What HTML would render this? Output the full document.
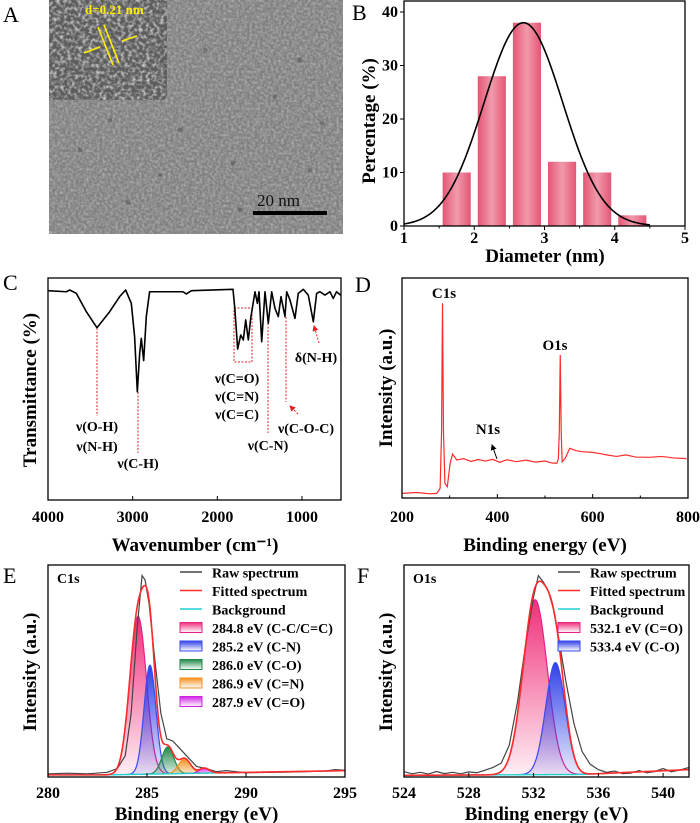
<!DOCTYPE html>
<html><head><meta charset="utf-8"><style>
html,body{margin:0;padding:0;background:#fff;}
svg{display:block;font-family:"Liberation Serif",serif;font-weight:bold;}
</style></head><body>
<svg id="fig" width="700" height="823" viewBox="0 0 700 823">
<defs>
<filter id="noise" x="0" y="0" width="100%" height="100%">
<feTurbulence type="fractalNoise" baseFrequency="0.38" numOctaves="2" seed="3"/>
<feColorMatrix type="matrix" values="0 0 0 0 0.45  0 0 0 0 0.45  0 0 0 0 0.45  1.8 0 0 0 -0.6"/>
</filter>
<filter id="noise2" x="0" y="0" width="100%" height="100%">
<feTurbulence type="fractalNoise" baseFrequency="0.28" numOctaves="2" seed="7"/>
<feColorMatrix type="matrix" values="0 0 0 0 1  0 0 0 0 1  0 0 0 0 1  2.2 0 0 0 -0.9"/>
</filter>
<linearGradient id="barG" x1="0" x2="1" y1="0" y2="0">
<stop offset="0" stop-color="#e45674"/><stop offset="0.5" stop-color="#f19aac"/><stop offset="1" stop-color="#e45674"/>
</linearGradient>
<linearGradient id="gPink" x1="0" x2="0" y1="0" y2="1"><stop offset="0" stop-color="#f0307a"/><stop offset="1" stop-color="#f0307a" stop-opacity="0.08"/></linearGradient>
<linearGradient id="gBlue" x1="0" x2="0" y1="0" y2="1"><stop offset="0" stop-color="#3040e8"/><stop offset="1" stop-color="#3040e8" stop-opacity="0.1"/></linearGradient>
<linearGradient id="gGreen" x1="0" x2="0" y1="0" y2="1"><stop offset="0" stop-color="#20884a"/><stop offset="1" stop-color="#20884a" stop-opacity="0.15"/></linearGradient>
<linearGradient id="gOrange" x1="0" x2="0" y1="0" y2="1"><stop offset="0" stop-color="#f7901e"/><stop offset="1" stop-color="#f7901e" stop-opacity="0.2"/></linearGradient>
<linearGradient id="gPurple" x1="0" x2="0" y1="0" y2="1"><stop offset="0" stop-color="#d020e8"/><stop offset="1" stop-color="#d020e8" stop-opacity="0.2"/></linearGradient>
<linearGradient id="lgPink" x1="0" x2="0" y1="0" y2="1"><stop offset="0" stop-color="#f0307a"/><stop offset="1" stop-color="#fff"/></linearGradient>
<linearGradient id="lgBlue" x1="0" x2="0" y1="0" y2="1"><stop offset="0" stop-color="#3040e8"/><stop offset="1" stop-color="#fff"/></linearGradient>
<linearGradient id="lgGreen" x1="0" x2="0" y1="0" y2="1"><stop offset="0" stop-color="#20884a"/><stop offset="1" stop-color="#fff"/></linearGradient>
<linearGradient id="lgOrange" x1="0" x2="0" y1="0" y2="1"><stop offset="0" stop-color="#f7901e"/><stop offset="1" stop-color="#fff"/></linearGradient>
<linearGradient id="lgPurple" x1="0" x2="0" y1="0" y2="1"><stop offset="0" stop-color="#d020e8"/><stop offset="1" stop-color="#fff"/></linearGradient>
<marker id="arrR" markerWidth="6" markerHeight="6" refX="5" refY="3" orient="auto"><path d="M0,0 L6,3 L0,6 z" fill="#e02020"/></marker>
<marker id="arrK" markerWidth="6" markerHeight="6" refX="5" refY="3" orient="auto"><path d="M0,0 L6,3 L0,6 z" fill="#000"/></marker>
</defs>

<!-- Panel A TEM -->
<g>
<text x="3" y="22" font-size="22" font-weight="normal">A</text>
<rect x="49" y="0" width="294" height="234" fill="#7f7f7f"/>
<rect x="49" y="0" width="294" height="234" filter="url(#noise)" opacity="0.95"/>
<g fill="#3a3a3a" opacity="0.35">
<circle cx="205" cy="50" r="2.5"/><circle cx="275" cy="97" r="2.5"/><circle cx="322" cy="123" r="2.5"/><circle cx="233" cy="163" r="2.5"/><circle cx="128" cy="202" r="2.5"/><circle cx="80" cy="150" r="2.5"/><circle cx="300" cy="60" r="2.5"/><circle cx="180" cy="130" r="2.5"/><circle cx="240" cy="210" r="2.5"/><circle cx="110" cy="120" r="2"/><circle cx="160" cy="175" r="2"/><circle cx="310" cy="170" r="2"/>
</g>
<rect x="49" y="0" width="118" height="100" fill="#5c5c5c"/>
<rect x="49" y="0" width="118" height="100" filter="url(#noise2)" opacity="0.75"/>
<text x="85" y="14" font-size="13" fill="#ffee00">d=0.21 nm</text>
<g stroke="#ffee00" stroke-width="1.6">
<line x1="98" y1="27" x2="113" y2="65"/><line x1="104" y1="25" x2="119" y2="63"/>
<line x1="84" y1="53" x2="100" y2="47"/><line x1="137" y1="36" x2="122" y2="41"/>
</g>
<text x="257" y="206" font-size="17" font-weight="normal" fill="#111">20 nm</text>
<rect x="253" y="211" width="74" height="4" fill="#000"/>
</g>

<g id="gB"></g>
<g id="gC"></g>
<g id="gD"></g>
<g id="gE"></g>
<g id="gF"></g>
</svg>

<script>
// ---------- Panel B data ----------
const bDiam = [1.75, 2.25, 2.75, 3.25, 3.75, 4.25];
const bPct = [10, 28, 38, 12, 10, 2];
const bXTicks = [1, 2, 3, 4, 5];
const bYTicks = [0, 10, 20, 30, 40];
const bFitCenter = [2.7];
const bFitPeak = [38];
const bFitSigma = [0.56];

// ---------- Panel C data (FTIR) ----------
const cWn = [4000,3783,3744,3665,3547,3422,3272,3154,3083,3016,2977,2945,2917,2898,2870,2839,2800,2406,2366,2307,1815,1792,1760,1724,1693,1665,1634,1606,1587,1555,1527,1508,1476,1437,1398,1358,1319,1280,1248,1201,1181,1142,1083,1044,985,926,866,827,788,729,670,631,592,544];
const cT = [94.3,93.8,94.6,93.1,84.8,77.6,84.8,91.6,94.6,88.6,73.6,48.8,66.1,72.8,62.8,82.6,93.8,93.8,92.8,94.3,94.9,85.6,68.0,74.3,72.1,81.1,72.1,81.8,86.3,93.8,88.6,93.8,71.3,93.8,79.6,93.8,86.3,82.6,91.6,82.6,93.8,90.1,81.8,93.1,94.9,92.3,80.3,93.1,93.8,92.3,93.8,90.8,93.8,92.3];
const cXTicks = [4000, 3000, 2000, 1000];

// ---------- Panel D data (XPS survey) ----------
const dEv = [200,230,260,273,280,283,285,287,290,295,301,306,315,329,345,360,375,390,405,420,440,460,480,500,515,525,528,530,532,534,536,542,552,565,580,598,615,632,650,670,690,720,745,770,797];
const dI = [2.1,2.5,1.9,2.1,4.4,30,88.5,30,6.7,5.1,15.8,20,17.3,17.9,16.6,17.5,16.8,17.6,16.2,17.4,16.5,17.2,16.3,16.8,15.9,15.8,17.9,30,65,30,16.5,17.9,22.6,21.5,21,20.8,20.2,19.5,18.9,19.6,18.6,18.5,18.9,18.2,17.9];
const dXTicks = [200, 400, 600, 800];

// ---------- Panel E data (C1s) ----------
const eCenters = [284.55, 285.15, 286.05, 286.9, 287.9];
const eHeights = [74.5, 51.4, 12.7, 7.0, 2.4];
const eSigmas = [0.42, 0.3, 0.3, 0.3, 0.25];
const eLabels = ["284.8 eV (C-C/C=C)", "285.2 eV (C-N)", "286.0 eV (C-O)", "286.9 eV (C=N)", "287.9 eV (C=O)"];
const eRawEv = [280,281,282,283,283.5,283.9,284.2,284.5,284.75,284.9,285.1,285.4,285.7,286.0,286.3,286.6,287,287.5,288,288.5,289,289.5,290,291,292,293,294,294.5,295];
const eRawI = [1.5,1.8,1.5,2.2,4,10,30,70,95,93,82,55,30,18,17,14,10,5,4,2.5,3,2.5,2,2.2,2.3,2.5,2.8,3.5,3.2];
const eBgEv = [280, 283, 295];
const eBgI = [1, 1, 3];
const eXTicks = [280, 285, 290, 295];

// ---------- Panel F data (O1s) ----------
const fCenters = [532.1, 533.35];
const fHeights = [82.5, 52.8];
const fSigmas = [0.75, 0.6];
const fLabels = ["532.1 eV (C=O)", "533.4 eV (C-O)"];
const fRawEv = [524,524.5,525,525.5,526,526.5,527,527.5,528,528.5,529,529.5,530,530.5,531,531.5,532,532.3,532.6,532.9,533.2,533.5,534,534.5,535,535.5,536,536.5,537,537.5,538,538.5,539,539.5,540,540.5,541,541.6];
const fRawI = [2.5,1.5,2.2,1.4,2.6,1.6,2.2,1.5,2.4,2.0,3.2,4.5,6.5,15,35,62,85,95,92,88,80,68,45,25,12,6,3.5,2.2,2.8,1.6,1.8,3.0,2.0,2.6,4.0,2.5,3.2,4.5];
const fBgEv = [524, 535, 541.6];
const fBgI = [0.8, 1.2, 3.5];
const fXTicks = [524, 528, 532, 536, 540];

// ---------- helpers ----------
const NS = "http://www.w3.org/2000/svg";
const TICK = 16, TITLE = 19;
function mk(parent, tag, attrs) {
  const el = document.createElementNS(NS, tag);
  for (const k in attrs) el.setAttribute(k, attrs[k]);
  parent.appendChild(el);
  return el;
}
function txt(parent, x, y, s, size, anchor, extra) {
  const t = mk(parent, "text", Object.assign({x: x, y: y, "font-size": size, "text-anchor": anchor || "start"}, extra || {}));
  t.textContent = s;
  return t;
}
function scale(d0, d1, r0, r1) { return v => r0 + (v - d0) / (d1 - d0) * (r1 - r0); }
function pathFrom(xs, ys, sx, sy) {
  return xs.map((v, i) => (i ? "L" : "M") + sx(v).toFixed(2) + "," + sy(ys[i]).toFixed(2)).join(" ");
}
function interp(xs, ys, x) {
  for (let i = 0; i < xs.length - 1; i++) {
    if (x >= xs[i] && x <= xs[i + 1]) return ys[i] + (ys[i + 1] - ys[i]) * (x - xs[i]) / (xs[i + 1] - xs[i]);
  }
  return x < xs[0] ? ys[0] : ys[ys.length - 1];
}
function gauss(x, c, h, s) { return h * Math.exp(-((x - c) * (x - c)) / (2 * s * s)); }

// ---------- Panel B ----------
(function () {
  const g = document.getElementById("gB");
  const L = 404, R = 685, T = 1, B = 226;
  const sx = scale(1, 5, L, R), sy = scale(0, 40, B, 12);
  txt(g, 352, 20, "B", 22, "start", {"font-weight": "normal"});
  bDiam.forEach((d, i) => {
    const r = mk(g, "rect", {x: sx(d - 0.2), y: sy(bPct[i]), width: sx(d + 0.2) - sx(d - 0.2), height: B - sy(bPct[i]), fill: "url(#barG)"});
    
    
  });
  const xs = [], ys = [];
  for (let x = 1; x <= 4.5; x += 0.02) { xs.push(x); ys.push(gauss(x, bFitCenter[0], bFitPeak[0], bFitSigma[0])); }
  const fit = mk(g, "path", {d: pathFrom(xs, ys, sx, sy), fill: "none", stroke: "#000", "stroke-width": 1.6});
  
  
  const fr = mk(g, "rect", {x: L, y: T, width: R - L, height: B - T, fill: "none", stroke: "#000", "stroke-width": 1.3});
  
  
  bXTicks.forEach(v => {
    mk(g, "line", {x1: sx(v), x2: sx(v), y1: B, y2: B + 4, stroke: "#000"});
    const t = txt(g, sx(v), B + 17, String(v), TICK, "middle");
    
    
  });
  for (let v = 1.5; v < 5; v += 1) mk(g, "line", {x1: sx(v), x2: sx(v), y1: B, y2: B + 2.5, stroke: "#000"});
  bYTicks.forEach(v => {
    mk(g, "line", {x1: L - 4, x2: L, y1: sy(v), y2: sy(v), stroke: "#000"});
    const t = txt(g, L - 6, sy(v) + 5, String(v), TICK, "end");
    
    
  });
  const xt = txt(g, 545, 262, "Diameter (nm)", TITLE, "middle");
  
  
  const yt = txt(g, 0, 0, "Percentage (%)", TITLE, "middle", {transform: "translate(375,121) rotate(-90)"});
  
  
})();

// ---------- Panel C ----------
(function () {
  const g = document.getElementById("gC");
  const L = 48, R = 341, T = 278, B = 500;
  const sx = scale(4000, 1000, L, 302), sy = scale(0, 100, B, T);
  txt(g, 3, 290, "C", 22, "start", {"font-weight": "normal"});
  const red = {stroke: "#e02020", "stroke-width": 1, "stroke-dasharray": "2,1.5", fill: "none"};
  mk(g, "line", Object.assign({x1: 97, x2: 97, y1: 328, y2: 416}, red));
  mk(g, "line", Object.assign({x1: 138, x2: 138, y1: 392, y2: 453}, red));
  mk(g, "rect", Object.assign({x: 234, y: 308, width: 18, height: 54}, red));
  mk(g, "line", Object.assign({x1: 268, x2: 268, y1: 323, y2: 433}, red));
  mk(g, "line", Object.assign({x1: 286, x2: 286, y1: 317, y2: 402}, red));
  mk(g, "line", Object.assign({x1: 298, x2: 290, y1: 414, y2: 406, "marker-end": "url(#arrR)"}, red));
  mk(g, "line", Object.assign({x1: 319, x2: 314, y1: 343, y2: 326, "marker-end": "url(#arrR)"}, red));
  const p = mk(g, "path", {d: pathFrom(cWn, cT, sx, sy), fill: "none", stroke: "#000", "stroke-width": 1.6, "stroke-linejoin": "round"});
  
  
  mk(g, "rect", {x: L, y: T, width: R - L, height: B - T, fill: "none", stroke: "#000", "stroke-width": 1.3});
  cXTicks.forEach(v => {
    mk(g, "line", {x1: sx(v), x2: sx(v), y1: B, y2: B - 4, stroke: "#000"});
    const t = txt(g, sx(v), B + 22, String(v), TICK, "middle");
    
    
  });
  const labs = [["ν(O-H)", 97, 431], ["ν(N-H)", 97, 451], ["ν(C-H)", 138, 468], ["ν(C=O)", 237, 383], ["ν(C=N)", 237, 401], ["ν(C=C)", 237, 419], ["ν(C-N)", 268, 450], ["ν(C-O-C)", 306, 433], ["δ(N-H)", 316, 362]];
  labs.forEach(l => {
    const t = txt(g, l[1], l[2], l[0], 14, "middle");
    
    
  });
  const xt = txt(g, 195, 551, "Wavenumber (cm⁻¹)", TITLE, "middle");
  
  
  const yt = txt(g, 0, 0, "Transmittance (%)", TITLE, "middle", {transform: "translate(36,390) rotate(-90)"});
  
  
})();

// ---------- Panel D ----------
(function () {
  const g = document.getElementById("gD");
  const L = 402, R = 688, T = 278, B = 498;
  const sx = scale(200, 800, L, R), sy = scale(0, 100, B, B - 220);
  txt(g, 355, 292, "D", 22, "start", {"font-weight": "normal"});
  const p = mk(g, "path", {d: pathFrom(dEv, dI, sx, sy), fill: "none", stroke: "#ff2a2a", "stroke-width": 1.2});
  
  
  mk(g, "rect", {x: L, y: T, width: R - L, height: B - T, fill: "none", stroke: "#000", "stroke-width": 1.3});
  dXTicks.forEach(v => {
    mk(g, "line", {x1: sx(v), x2: sx(v), y1: B, y2: B - 4, stroke: "#000"});
    const t = txt(g, sx(v), B + 24, String(v), TICK, "middle");
    
    
  });
  for (let v = 300; v < 800; v += 200) mk(g, "line", {x1: sx(v), x2: sx(v), y1: B, y2: B - 2.5, stroke: "#000"});
  txt(g, 444, 298, "C1s", 15, "middle");
  txt(g, 555, 350, "O1s", 15, "middle");
  txt(g, 488, 434, "N1s", 15, "middle");
  mk(g, "line", {x1: 497, x2: 492, y1: 459, y2: 445, stroke: "#000", "stroke-width": 1, "marker-end": "url(#arrK)"});
  const xt = txt(g, 545, 551, "Binding energy (eV)", TITLE, "middle");
  
  
  const yt = txt(g, 0, 0, "Intensity (a.u.)", TITLE, "middle", {transform: "translate(392,388) rotate(-90)"});
  
  
})();

// ---------- XPS high-res panel builder ----------
function xpsPanel(g, opt) {
  const sx = scale(opt.x0, opt.x1, opt.L, opt.R), sy = scale(0, 100, opt.B, opt.T);
  txt(g, opt.letterX, 583, opt.letter, 22, "start", {"font-weight": "normal"});
  const fills = ["url(#gPink)", "url(#gBlue)", "url(#gGreen)", "url(#gOrange)", "url(#gPurple)"];
  const strokes = ["#e8208a", "#3a4af0", "#228a48", "#f7901e", "#d020e8"];
  const lfills = ["url(#lgPink)", "url(#lgBlue)", "url(#lgGreen)", "url(#lgOrange)", "url(#lgPurple)"];
  const xs = [];
  for (let x = opt.x0; x <= opt.x1 + 1e-9; x += 0.03) xs.push(x);
  const bg = xs.map(x => interp(opt.bgEv, opt.bgI, x));
  opt.centers.forEach((c, k) => {
    const cx = xs.filter(x => Math.abs(x - c) < opt.sigmas[k] * 4);
    const top = cx.map(x => interp(opt.bgEv, opt.bgI, x) + gauss(x, c, opt.heights[k], opt.sigmas[k]));
    const base = cx.map(x => interp(opt.bgEv, opt.bgI, x));
    let d = pathFrom(cx, top, sx, sy);
    for (let i = cx.length - 1; i >= 0; i--) d += " L" + sx(cx[i]).toFixed(2) + "," + sy(base[i]).toFixed(2);
    d += " Z";
    const a = mk(g, "path", {d: d, fill: fills[k], stroke: "none"});
    
    
    const l = mk(g, "path", {d: pathFrom(cx, top, sx, sy), fill: "none", stroke: strokes[k], "stroke-width": 1.2});
    
    
  });
  const bgl = mk(g, "path", {d: pathFrom(xs, bg, sx, sy), fill: "none", stroke: "#20d0d0", "stroke-width": 1.4});
  
  
  const raw = mk(g, "path", {d: pathFrom(opt.rawEv, opt.rawI, sx, sy), fill: "none", stroke: "#444", "stroke-width": 1.2});
  
  
  const fitY = xs.map((x, i) => bg[i] + opt.centers.reduce((s, c, k) => s + gauss(x, c, opt.heights[k], opt.sigmas[k]), 0));
  const fit = mk(g, "path", {d: pathFrom(xs, fitY, sx, sy), fill: "none", stroke: "#ff2a2a", "stroke-width": 1.6});
  
  
  mk(g, "rect", {x: opt.L, y: opt.T, width: opt.R - opt.L, height: opt.B - opt.T, fill: "none", stroke: "#000", "stroke-width": 1.3});
  opt.ticks.forEach(v => {
    mk(g, "line", {x1: sx(v), x2: sx(v), y1: opt.B, y2: opt.B - 4, stroke: "#000"});
    const t = txt(g, sx(v), opt.B + 21, String(v), TICK, "middle");
    
    
  });
  txt(g, opt.L + 9, 583, opt.core, 14, "start");
  const lg = mk(g, "g", {});
  
  
  const rows = ["Raw spectrum", "Fitted spectrum", "Background"].concat(opt.labels);
  const lc = ["#444", "#ff2a2a", "#20d0d0"];
  rows.forEach((s, i) => {
    const y = 573 + i * 18.5;
    if (i < 3) mk(lg, "line", {x1: opt.legX, x2: opt.legX + 22, y1: y - 1, y2: y - 1, stroke: lc[i], "stroke-width": 1.6});
    else mk(lg, "rect", {x: opt.legX, y: y - 6, width: 22, height: 10, fill: lfills[i - 3], stroke: strokes[i - 3], "stroke-width": 1});
    const t = txt(lg, opt.legX + 32, y + 4.5, s, 14, "start");
    
    
  });
  const xt = txt(g, (opt.L + opt.R) / 2, 820, "Binding energy (eV)", TITLE, "middle");
  
  
  const yt = txt(g, 0, 0, "Intensity (a.u.)", TITLE, "middle", {transform: "translate(" + opt.yTitleX + ",672) rotate(-90)"});
  
  
}

xpsPanel(document.getElementById("gE"), {
  L: 48, R: 345, T: 565, B: 777, x0: 280, x1: 295, letter: "E", letterX: 3, core: "C1s",
  centers: eCenters, heights: eHeights, sigmas: eSigmas, labels: eLabels,
  rawEv: eRawEv, rawI: eRawI, bgEv: eBgEv, bgI: eBgI, ticks: eXTicks, legX: 180, yTitleX: 36
});
xpsPanel(document.getElementById("gF"), {
  L: 404, R: 689, T: 565, B: 777, x0: 524, x1: 541.6, letter: "F", letterX: 357, core: "O1s",
  centers: fCenters, heights: fHeights, sigmas: fSigmas, labels: fLabels,
  rawEv: fRawEv, rawI: fRawI, bgEv: fBgEv, bgI: fBgI, ticks: fXTicks, legX: 558, yTitleX: 392
});
</script>
</body></html>
